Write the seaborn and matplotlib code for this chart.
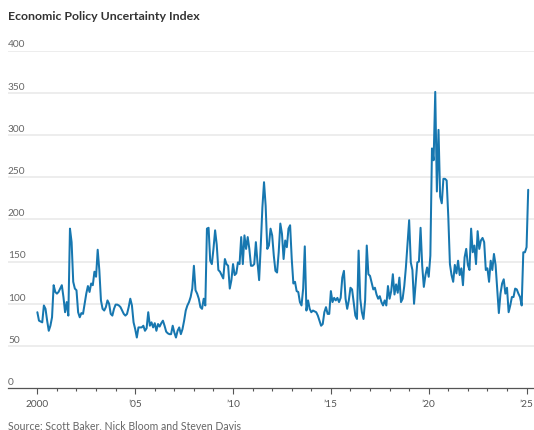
import numpy as np
import pandas as pd
import matplotlib
matplotlib.use("Agg")
import matplotlib.pyplot as plt
import seaborn as sns

# monthly index values, Jan 2000 - Feb 2025
epu_2000s = [
    90, 80, 79, 78, 98, 94, 80, 68, 74, 84, 122, 114,        # 2000
    112, 114, 118, 122, 108, 90, 102, 86, 189, 173, 126, 118,  # 2001
    116, 90, 84, 89, 88, 100, 112, 121, 114, 124, 122, 138,    # 2002
    132, 164, 140, 104, 94, 92, 96, 104, 100, 88, 86, 94,      # 2003
    99, 99, 98, 96, 92, 88, 86, 88, 96, 106, 98, 78,           # 2004
    70, 60, 72, 72, 72, 74, 68, 71, 90, 74, 78, 72,            # 2005
    77, 68, 76, 73, 77, 80, 74, 67, 65, 64, 64, 74,            # 2006
    66, 60, 68, 72, 64, 70, 80, 92, 98, 102, 108, 118,         # 2007
    145, 116, 112, 106, 96, 94, 106, 98, 189, 190, 151, 147,   # 2008
    165, 187, 170, 140, 138, 134, 130, 153, 147, 145, 118, 128,  # 2009
]
epu_2010s = [
    147, 134, 136, 149, 147, 179, 147, 181, 165, 179, 165, 145,  # 2010
    145, 147, 173, 149, 128, 169, 214, 244, 216, 165, 169, 189,  # 2011
    181, 157, 139, 137, 161, 195, 183, 153, 175, 167, 189, 193,  # 2012
    153, 124, 126, 115, 114, 102, 98, 118, 168, 92, 104, 94,     # 2013
    90, 92, 91, 90, 86, 80, 74, 76, 90, 96, 88, 88,              # 2014
    115, 102, 107, 104, 107, 102, 107, 131, 139, 106, 94, 104,   # 2015
    119, 117, 102, 86, 82, 163, 106, 90, 82, 104, 169, 135,      # 2016
    133, 125, 117, 119, 111, 106, 109, 102, 98, 104, 98, 121,    # 2017
    106, 115, 135, 111, 123, 113, 131, 102, 106, 121, 143, 171,  # 2018
    199, 149, 140, 100, 125, 149, 150, 190, 145, 120, 134, 143,  # 2019
]
epu_2020s = [
    132, 157, 284, 270, 351, 233, 306, 227, 219, 248, 248, 246,  # 2020
    203, 147, 134, 126, 146, 136, 151, 134, 142, 122, 155, 165,  # 2021
    146, 140, 189, 161, 169, 147, 186, 165, 175, 178, 173, 140,  # 2022
    142, 126, 151, 140, 159, 146, 118, 89, 112, 124, 129, 112,   # 2023
    119, 90, 98, 108, 108, 118, 117, 112, 108, 98, 161, 161,     # 2024
    167, 235,                                                    # 2025
]

y_ticks = [0, 50, 100, 150, 200, 250, 300, 350, 400]
x_major = [2000, 2005, 2010, 2015, 2020, 2025]
x_labels = ["2000", "\u201905", "\u201910", "\u201915", "\u201920", "\u201925"]

values = epu_2000s + epu_2010s + epu_2020s
df = pd.DataFrame({"year": 2000 + np.arange(len(values)) / 12.0, "epu": values})

sns.set_theme(style="white")
plt.rcParams["font.family"] = ["Lato", "DejaVu Sans"]

W, H = 534, 431
fig = plt.figure(figsize=(W / 100, H / 100), dpi=100)
ax = fig.add_axes([8 / W, (H - 389.2) / H, (W - 8) / W, (389.2 - 51.5) / H])

sns.lineplot(data=df, x="year", y="epu", ax=ax, color="#1777b0", linewidth=1.45)

ax.set_xlim(1998.5, 2025.38)
ax.set_ylim(0, 400)

# horizontal grid, labels sitting on top of the lines
for v in y_ticks:
    if v > 0:
        ax.axhline(v, color="#e8e8e8", lw=1.1, zorder=0)
    ax.annotate(str(v), xy=(0, v), xycoords=("axes fraction", "data"),
                xytext=(0, 1.5), textcoords="offset points",
                ha="left", va="bottom", fontsize=7.3, color="#666666")
ax.set_yticks([])

ax.set_xticks(x_major)
ax.set_xticklabels(x_labels)
ax.set_xticks(range(2000, 2026), minor=True)
ax.tick_params(axis="x", which="major", length=4, width=0.8, color="#555555",
               labelsize=7.3, labelcolor="#555555", pad=4, bottom=True)
ax.tick_params(axis="x", which="minor", length=2.5, width=0.8, color="#555555", bottom=True)

for s in ["top", "left", "right"]:
    ax.spines[s].set_visible(False)
ax.spines["bottom"].set_color("#555555")
ax.spines["bottom"].set_linewidth(0.9)
ax.set_xlabel("")
ax.set_ylabel("")
ax.patch.set_alpha(0)

fig.text(8 / W, 1 - 16 / H, "Economic Policy Uncertainty Index", fontsize=8.9,
         fontweight="bold", color="#333333", ha="left", va="center")
fig.text(8 / W, (H - 425.5) / H, "Source: Scott Baker, Nick Bloom and Steven Davis",
         fontsize=7.6, color="#666666", ha="left", va="center")

fig.savefig("out.png", dpi=100)
